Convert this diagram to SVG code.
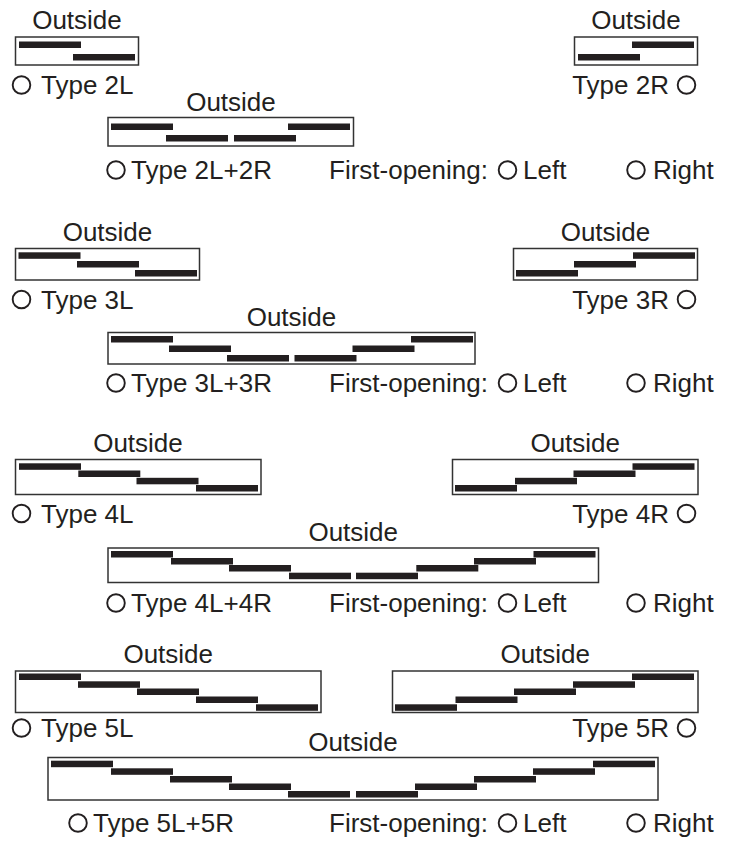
<svg xmlns="http://www.w3.org/2000/svg" width="738" height="841" viewBox="0 0 738 841">
<style>
text{font-family:"Liberation Sans",Arial,sans-serif;font-size:26px;fill:#231f20}
.m{text-anchor:middle}
.e{text-anchor:end}
.box{fill:#fff;stroke:#333;stroke-width:1.5}
.bar{fill:#231f20}
.rb{fill:none;stroke:#231f20;stroke-width:1.9}
</style>
<defs>
<rect id="b" class="bar" width="62" height="6.5"/>
</defs>
<rect width="738" height="841" fill="#fff"/>

<!-- Section 2 -->
<g id="type2L">
<text class="m" x="77" y="29">Outside</text>
<rect class="box" x="15.5" y="37" width="123" height="28"/>
<use href="#b" x="19" y="41.5"/><use href="#b" x="73" y="54"/>
<circle class="rb" cx="21.5" cy="85" r="8.8"/>
<text x="41" y="94">Type 2L</text>
</g>
<g id="type2R">
<text class="m" x="636" y="29">Outside</text>
<rect class="box" x="574.5" y="37" width="123" height="28"/>
<use href="#b" x="632" y="41.5"/><use href="#b" x="578" y="54"/>
<text class="e" x="669" y="94">Type 2R</text>
<circle class="rb" cx="686.5" cy="85" r="8.8"/>
</g>
<g id="type2L2R">
<text class="m" x="231" y="110.5">Outside</text>
<rect class="box" x="108" y="117.5" width="245.5" height="28.5"/>
<use href="#b" x="111" y="123.5"/><use href="#b" x="166" y="135"/><use href="#b" x="234" y="135"/><use href="#b" x="288" y="123.5"/>
<circle class="rb" cx="116" cy="170" r="8.8"/>
<text x="131" y="179">Type 2L+2R</text>
<text x="329" y="179">First-opening:</text>
<circle class="rb" cx="507.5" cy="170" r="8.8"/>
<text x="523" y="179">Left</text>
<circle class="rb" cx="636" cy="170" r="8.8"/>
<text x="653" y="179">Right</text>
</g>

<!-- Section 3 -->
<g id="type3L">
<text class="m" x="107.5" y="241">Outside</text>
<rect class="box" x="15.5" y="248.5" width="184" height="31.5"/>
<use href="#b" x="18.5" y="252.3"/><use href="#b" x="77" y="261"/><use href="#b" x="135" y="270"/>
<circle class="rb" cx="21.5" cy="299.5" r="8.8"/>
<text x="41" y="308.5">Type 3L</text>
</g>
<g id="type3R">
<text class="m" x="605.5" y="241">Outside</text>
<rect class="box" x="513.5" y="248.5" width="184" height="31.5"/>
<use href="#b" x="633" y="252.3"/><use href="#b" x="574" y="261"/><use href="#b" x="516" y="270"/>
<text class="e" x="669" y="308.5">Type 3R</text>
<circle class="rb" cx="686.5" cy="299.5" r="8.8"/>
</g>
<g id="type3L3R">
<text class="m" x="291.5" y="325.5">Outside</text>
<rect class="box" x="108" y="332.5" width="367" height="31.5"/>
<use href="#b" x="111" y="336"/><use href="#b" x="169" y="345.5"/><use href="#b" x="227" y="355"/><use href="#b" x="294.5" y="355"/><use href="#b" x="352.5" y="345.5"/><use href="#b" x="411" y="336"/>
<circle class="rb" cx="116" cy="383" r="8.8"/>
<text x="131" y="392">Type 3L+3R</text>
<text x="329" y="392">First-opening:</text>
<circle class="rb" cx="507.5" cy="383" r="8.8"/>
<text x="523" y="392">Left</text>
<circle class="rb" cx="636" cy="383" r="8.8"/>
<text x="653" y="392">Right</text>
</g>

<!-- Section 4 -->
<g id="type4L">
<text class="m" x="138" y="452">Outside</text>
<rect class="box" x="15.5" y="459.5" width="245.5" height="35"/>
<use href="#b" x="19" y="463.3"/><use href="#b" x="78.3" y="470.5"/><use href="#b" x="136.5" y="477.8"/><use href="#b" x="196" y="485"/>
<circle class="rb" cx="21.5" cy="513.5" r="8.8"/>
<text x="41" y="522.5">Type 4L</text>
</g>
<g id="type4R">
<text class="m" x="575.25" y="452">Outside</text>
<rect class="box" x="452.5" y="459.5" width="245.5" height="35"/>
<use href="#b" x="632.5" y="463.3"/><use href="#b" x="573.5" y="470.5"/><use href="#b" x="515" y="477.8"/><use href="#b" x="455" y="485"/>
<text class="e" x="669" y="522.5">Type 4R</text>
<circle class="rb" cx="686.5" cy="513.5" r="8.8"/>
</g>
<g id="type4L4R">
<text class="m" x="353.25" y="541">Outside</text>
<rect class="box" x="108" y="548" width="490.5" height="34.5"/>
<use href="#b" x="111" y="551"/><use href="#b" x="171" y="558"/><use href="#b" x="229" y="565"/><use href="#b" x="289" y="572.7"/><use href="#b" x="356" y="572.7"/><use href="#b" x="416.3" y="565"/><use href="#b" x="474" y="558"/><use href="#b" x="533.5" y="551"/>
<circle class="rb" cx="116" cy="603" r="8.8"/>
<text x="131" y="612">Type 4L+4R</text>
<text x="329" y="612">First-opening:</text>
<circle class="rb" cx="507.5" cy="603" r="8.8"/>
<text x="523" y="612">Left</text>
<circle class="rb" cx="636" cy="603" r="8.8"/>
<text x="653" y="612">Right</text>
</g>

<!-- Section 5 -->
<g id="type5L">
<text class="m" x="168.25" y="663">Outside</text>
<rect class="box" x="15.5" y="671" width="305.5" height="41.5"/>
<use href="#b" x="19" y="673.5"/><use href="#b" x="78" y="681.3"/><use href="#b" x="137" y="688.5"/><use href="#b" x="196" y="696.5"/><use href="#b" x="256" y="704.3"/>
<circle class="rb" cx="21.5" cy="728" r="8.8"/>
<text x="41" y="737">Type 5L</text>
</g>
<g id="type5R">
<text class="m" x="545.25" y="663">Outside</text>
<rect class="box" x="392.5" y="671" width="305.5" height="41.5"/>
<use href="#b" x="632" y="673.5"/><use href="#b" x="573" y="681.3"/><use href="#b" x="514" y="688.5"/><use href="#b" x="455.5" y="696.5"/><use href="#b" x="395" y="704.3"/>
<text class="e" x="669" y="737">Type 5R</text>
<circle class="rb" cx="686.5" cy="728" r="8.8"/>
</g>
<g id="type5L5R">
<text class="m" x="353" y="750.5">Outside</text>
<rect class="box" x="48" y="757.5" width="610" height="42.5"/>
<use href="#b" x="51" y="760.7"/><use href="#b" x="111" y="768.3"/><use href="#b" x="170" y="776"/><use href="#b" x="229" y="783.5"/><use href="#b" x="288" y="791"/><use href="#b" x="356" y="791"/><use href="#b" x="415" y="783.5"/><use href="#b" x="474" y="776"/><use href="#b" x="533" y="768.3"/><use href="#b" x="593" y="760.7"/>
<circle class="rb" cx="78" cy="823" r="8.8"/>
<text x="93" y="832">Type 5L+5R</text>
<text x="329" y="832">First-opening:</text>
<circle class="rb" cx="507.5" cy="823" r="8.8"/>
<text x="523" y="832">Left</text>
<circle class="rb" cx="636" cy="823" r="8.8"/>
<text x="653" y="832">Right</text>
</g>
<g id="connectors"/>
</svg>
